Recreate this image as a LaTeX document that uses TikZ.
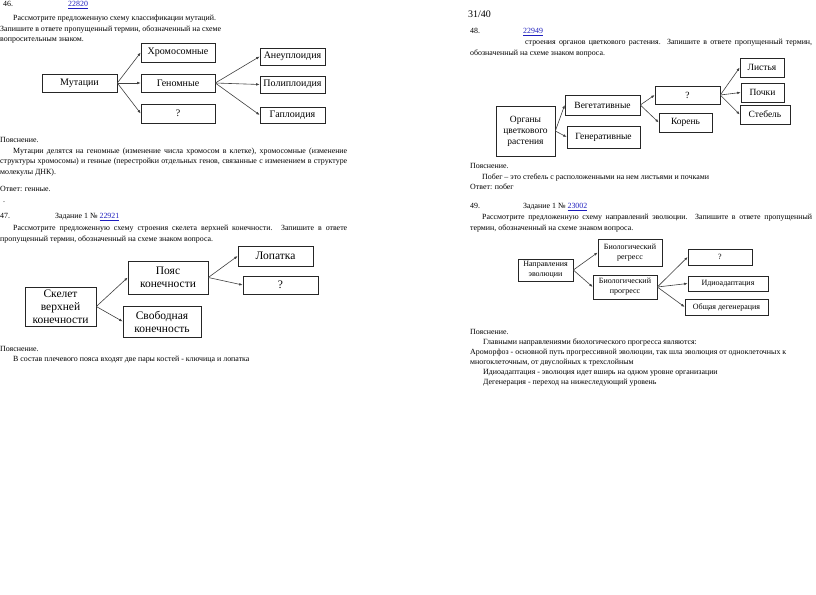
\documentclass[tikz,border=0pt]{standalone}
\usepackage{fontspec}
\setmainfont{Liberation Serif}
\usetikzlibrary{arrows.meta}

\definecolor{linkBlue}{RGB}{30,30,190}
\newcommand{\txtSize}{\fontsize{7.9}{9.5}\selectfont}
\newcommand{\taskLink}[1]{\textcolor{linkBlue}{\underline{#1}}}
\newcommand{\jLine}[2]{\makebox[#1][s]{#2}}

\begin{document}
\begin{tikzpicture}[
                x=1pt, y=-1pt,
                % Text Styles
                txt/.style = {anchor=base west, inner sep=0pt, font=\txtSize},
                % Box Styles
                optBox/.style = {rectangle, draw=black!85, line width=0.6pt, inner sep=1pt, align=center},
                boxA/.style = {optBox, font=\fontsize{10}{12}\selectfont},
                boxB/.style = {optBox, font=\fontsize{11.5}{13}\selectfont},
                boxC/.style = {optBox, font=\fontsize{9.5}{11}\selectfont},
                boxD/.style = {optBox, font=\fontsize{8}{10}\selectfont},
                % Arrow Style
                arr/.style = {-{Latex[length=3.5pt,width=2.6pt]}, line width=0.6pt, draw=black!75}
            ]
                \useasboundingbox[fill=white] (0,0) rectangle (816,594);

                % ==========================================
                % TASK 46: MUTATIONS
                % ==========================================
                \node[txt] (t46) at (3,6.7) {46.};
                \node[txt] (t46link) at (68,6.7) {\taskLink{22820}};
                \node[txt] (t46a) at (13,20.7) {Рассмотрите предложенную схему классификации мутаций.};
                \node[txt] (t46b) at (0,31.7) {Запишите в ответе пропущенный термин, обозначенный на схеме};
                \node[txt] (t46c) at (0,41.7) {вопросительным знаком.};

                \node[boxA, minimum width=75, minimum height=18] (mut) at (79.5,83) {Мутации};
                \node[boxA, minimum width=74, minimum height=19] (xrom) at (178,52.5) {Хромосомные};
                \node[boxA, minimum width=74, minimum height=18] (genom) at (178,83) {Геномные};
                \node[boxA, minimum width=74, minimum height=19] (q46) at (178,113.5) {?};
                \node[boxA, minimum width=65, minimum height=17] (aneu) at (292.5,56.5) {Анеуплоидия};
                \node[boxA, minimum width=65, minimum height=17] (poli) at (292.5,84.5) {Полиплоидия};
                \node[boxA, minimum width=65, minimum height=16] (gapl) at (292.5,115) {Гаплоидия};

                \draw[arr] (mut.east) -- (xrom.west);
                \draw[arr] (mut.east) -- (genom.west);
                \draw[arr] (mut.east) -- (q46.west);
                \draw[arr] (genom.east) -- (aneu.west);
                \draw[arr] (genom.east) -- (poli.west);
                \draw[arr] (genom.east) -- (gapl.west);

                \node[txt] (e46) at (0,142.7) {Пояснение.};
                \node[txt] (e46a) at (13,153.7) {\jLine{334pt}{Мутации делятся на геномные (изменение числа хромосом в клетке), хромосомные (изменение}};
                \node[txt] (e46b) at (0,163.7) {\jLine{347pt}{структуры хромосомы) и генные (перестройки отдельных генов, связанные с изменением в структуре}};
                \node[txt] (e46c) at (0,174.7) {молекулы ДНК).};
                \node[txt] (a46) at (0,191.7) {Ответ: генные.};
                \node[txt] (dot46) at (3,202) {.};

                % ==========================================
                % TASK 47: UPPER LIMB SKELETON
                % ==========================================
                \node[txt] (t47) at (0,218.7) {47.};
                \node[txt] (t47link) at (55,218.7) {Задание 1 № \taskLink{22921}};
                \node[txt] (t47a) at (13,230.7) {\jLine{334pt}{Рассмотрите предложенную схему строения скелета верхней конечности. Запишите в ответе}};
                \node[txt] (t47b) at (0,241.7) {пропущенный термин, обозначенный на схеме знаком вопроса.};

                \node[boxB, minimum width=71, minimum height=39] (skel) at (60.5,306.5) {Скелет\\верхней\\конечности};
                \node[boxB, minimum width=80, minimum height=33] (poyas) at (168,277.5) {Пояс\\конечности};
                \node[boxB, minimum width=78, minimum height=31] (svob) at (162,321.5) {Свободная\\конечность};
                \node[boxB, minimum width=75, minimum height=20] (lop) at (275.5,256) {Лопатка};
                \node[boxB, minimum width=75, minimum height=18] (q47) at (280.5,285) {?};

                \draw[arr] (skel.east) -- (poyas.west);
                \draw[arr] (skel.east) -- (svob.west);
                \draw[arr] (poyas.east) -- (lop.west);
                \draw[arr] (poyas.east) -- (q47.west);

                \node[txt] (e47) at (0,351.7) {Пояснение.};
                \node[txt] (e47a) at (13,361.7) {В состав плечевого пояса входят две пары костей - ключица и лопатка};

                % ==========================================
                % TASK 48: FLOWERING PLANT ORGANS
                % ==========================================
                \node[anchor=base west, inner sep=0pt, font=\fontsize{10}{12}\selectfont] (pageNo) at (468,18) {31/40};
                \node[txt] (t48) at (470,33.7) {48.};
                \node[txt] (t48link) at (523,33.7) {\taskLink{22949}};
                \node[txt] (t48a) at (525,44.7) {\jLine{287pt}{строения органов цветкового растения. Запишите в ответе пропущенный термин,}};
                \node[txt] (t48b) at (470,55.7) {обозначенный на схеме знаком вопроса.};

                \node[boxC, minimum width=59, minimum height=50] (org) at (525.5,131) {Органы\\цветкового\\растения};
                \node[boxC, minimum width=75, minimum height=20] (veg) at (602.5,105) {Вегетативные};
                \node[boxC, minimum width=73, minimum height=22] (gen) at (603.5,137) {Генеративные};
                \node[boxC, minimum width=65, minimum height=18] (q48) at (687.5,95) {?};
                \node[boxC, minimum width=53, minimum height=19] (kor) at (685.5,122.5) {Корень};
                \node[boxC, minimum width=44, minimum height=19] (list) at (762,67.5) {Листья};
                \node[boxC, minimum width=43, minimum height=19] (poch) at (762.5,92.5) {Почки};
                \node[boxC, minimum width=50, minimum height=19] (steb) at (765,114.5) {Стебель};

                \draw[arr] (org.east) -- (veg.west);
                \draw[arr] (org.east) -- (gen.west);
                \draw[arr] (veg.east) -- (q48.west);
                \draw[arr] (veg.east) -- (kor.west);
                \draw[arr] (q48.east) -- (list.west);
                \draw[arr] (q48.east) -- (poch.west);
                \draw[arr] (q48.east) -- (steb.west);

                \node[txt] (e48) at (470,168.7) {Пояснение.};
                \node[txt] (e48a) at (482,179.7) {Побег – это стебель с расположенными на нем листьями и почками};
                \node[txt] (a48) at (470,189.7) {Ответ: побег};

                % ==========================================
                % TASK 49: DIRECTIONS OF EVOLUTION
                % ==========================================
                \node[txt] (t49) at (470,208.7) {49.};
                \node[txt] (t49link) at (523,208.7) {Задание 1 № \taskLink{23002}};
                \node[txt] (t49a) at (482,219.7) {\jLine{330pt}{Рассмотрите предложенную схему направлений эволюции. Запишите в ответе пропущенный}};
                \node[txt] (t49b) at (470,230.7) {термин, обозначенный на схеме знаком вопроса.};

                \node[boxD, minimum width=55, minimum height=22] (napr) at (545.5,270) {Направления\\эволюции};
                \node[boxD, minimum width=64, minimum height=27] (regr) at (630,252.5) {Биологический\\регресс};
                \node[boxD, minimum width=64, minimum height=24] (progr) at (625,287) {Биологический\\прогресс};
                \node[boxD, minimum width=64, minimum height=16] (q49) at (720,257) {?};
                \node[boxD, minimum width=80, minimum height=15] (idio) at (728,283.5) {Идиоадаптация};
                \node[boxD, minimum width=83, minimum height=16] (obsh) at (726.5,307) {Общая дегенерация};

                \draw[arr] (napr.east) -- (regr.west);
                \draw[arr] (napr.east) -- (progr.west);
                \draw[arr] (progr.east) -- (q49.west);
                \draw[arr] (progr.east) -- (idio.west);
                \draw[arr] (progr.east) -- (obsh.west);

                \node[txt] (e49) at (470,334.7) {Пояснение.};
                \node[txt] (e49a) at (483,344.7) {Главными направлениями биологического прогресса являются:};
                \node[txt] (e49b) at (470,354.7) {Ароморфоз - основной путь прогрессивной эволюции, так шла эволюция от одноклеточных к};
                \node[txt] (e49c) at (470,364.7) {многоклеточным, от двуслойных к трехслойным};
                \node[txt] (e49d) at (483,374.7) {Идиоадаптация - эволюция идет вширь на одном уровне организации};
                \node[txt] (e49e) at (483,384.7) {Дегенерация - переход на нижеследующий уровень};

            \end{tikzpicture}
\end{document}
